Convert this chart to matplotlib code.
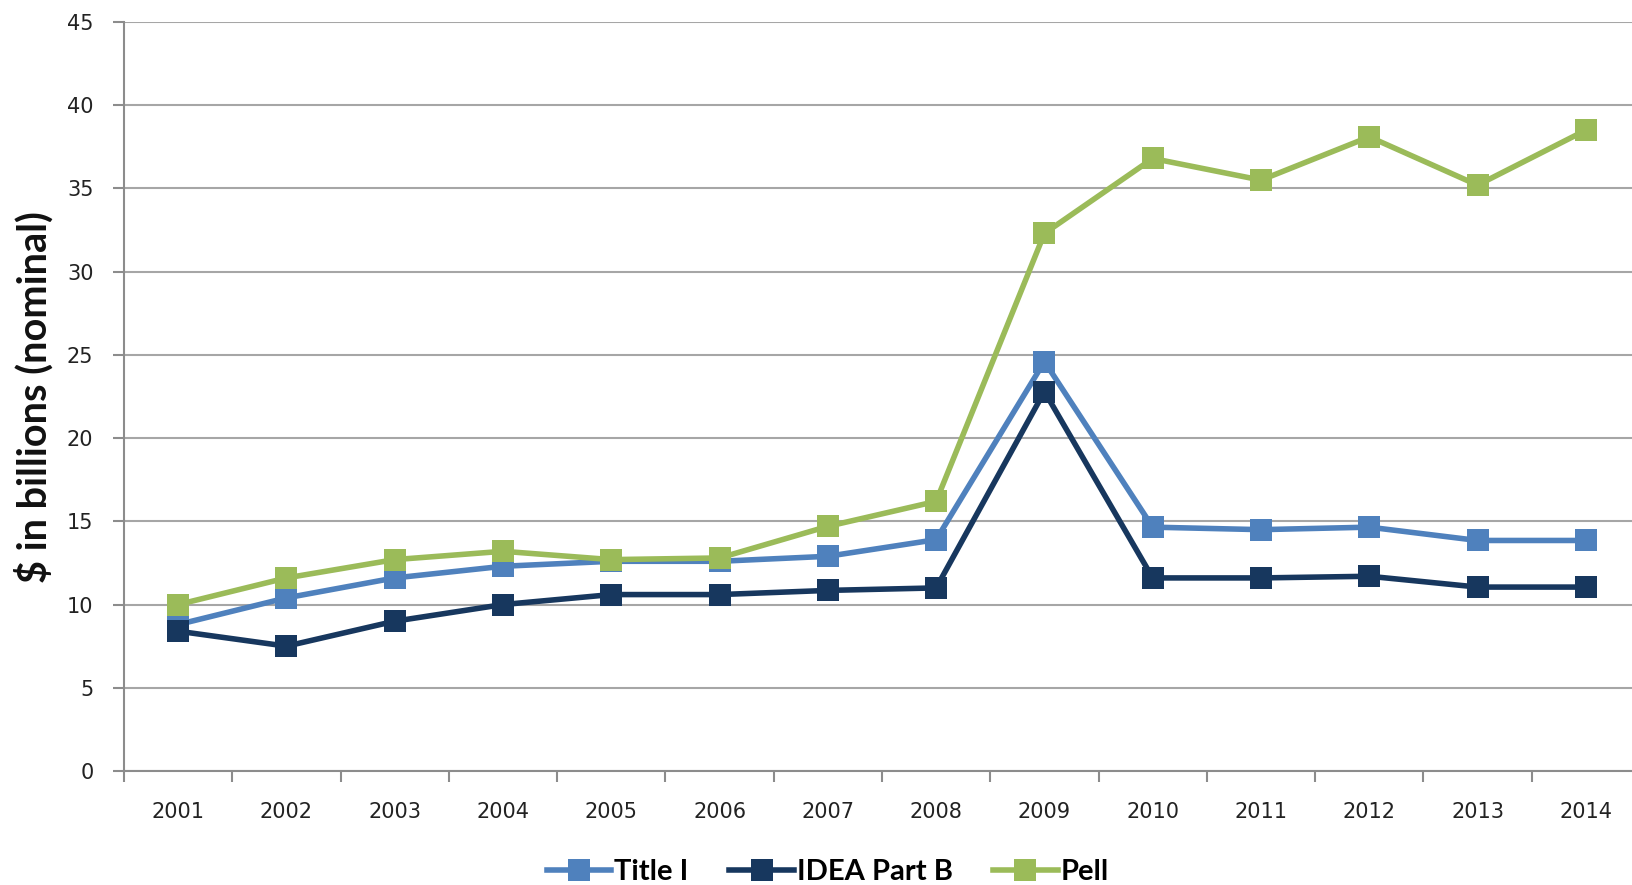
import matplotlib
matplotlib.use("Agg")
import matplotlib.pyplot as plt
from matplotlib.ticker import FixedLocator, MultipleLocator

years = ["2001", "2002", "2003", "2004", "2005", "2006", "2007",
         "2008", "2009", "2010", "2011", "2012", "2013", "2014"]
title_i = [8.8, 10.4, 11.6, 12.3, 12.6, 12.6, 12.9, 13.9, 24.6, 14.65, 14.5, 14.65, 13.85, 13.85]
idea_b = [8.4, 7.5, 9.0, 10.0, 10.6, 10.6, 10.85, 11.0, 22.8, 11.6, 11.6, 11.7, 11.05, 11.05]
pell = [10.0, 11.6, 12.7, 13.2, 12.7, 12.8, 14.7, 16.2, 32.3, 36.8, 35.5, 38.1, 35.2, 38.5]

series = [("Title I", title_i, "#4F81BD"),
          ("IDEA Part B", idea_b, "#17375E"),
          ("Pell", pell, "#9BBB59")]

W, H = 1632, 885
fig = plt.figure(figsize=(W / 100, H / 100), dpi=100)
left, right, top, bottom = 124, 1640, 22, 771
ax = fig.add_axes([left / W, 1 - bottom / H, (right - left) / W, (bottom - top) / H])

x = list(range(len(years)))
handles = []
for name, vals, col in series:
    h, = ax.plot(x, vals, color=col, lw=4, marker="s", markersize=16.5,
                 markeredgewidth=0, label=name, solid_joinstyle="miter")
    handles.append(h)

ax.set_xlim(-0.5, len(years) - 0.5)
ax.set_ylim(0, 45)
ax.yaxis.set_major_locator(MultipleLocator(5))
ax.grid(axis="y", color="#A6A6A6", lw=1.5)
ax.set_axisbelow(True)

ax.set_xticks(x)
ax.set_xticklabels(years)
ax.xaxis.set_minor_locator(FixedLocator([i - 0.5 for i in range(len(years) + 1)]))
ax.tick_params(axis="x", which="major", length=0, pad=22, labelsize=15, labelcolor="#222222")
ax.tick_params(axis="x", which="minor", length=8, width=1.5, color="#8C8C8C")
ax.tick_params(axis="y", which="major", length=8, width=1.5, color="#8C8C8C",
               pad=14, labelsize=15, labelcolor="#222222")

for s in ["top", "right"]:
    ax.spines[s].set_visible(False)
for s in ["left", "bottom"]:
    ax.spines[s].set_color("#8C8C8C")
    ax.spines[s].set_linewidth(1.5)

fig.text(34 / W, 1 - 397 / H, "$ in billions (nominal)", rotation=90,
         ha="center", va="center", fontsize=28.5, fontweight="bold",
         family=["Lato", "DejaVu Sans"], color="#111111")

leg = fig.legend(handles=handles, loc="center", bbox_to_anchor=(828 / W, 1 - 872 / H),
                 ncol=3, frameon=False, handlelength=2.2, handletextpad=0.1,
                 columnspacing=1.4, prop={"family": ["Lato", "DejaVu Sans"],
                                          "weight": "bold", "size": 21})

fig.savefig("out.png", dpi=100, facecolor="white")
